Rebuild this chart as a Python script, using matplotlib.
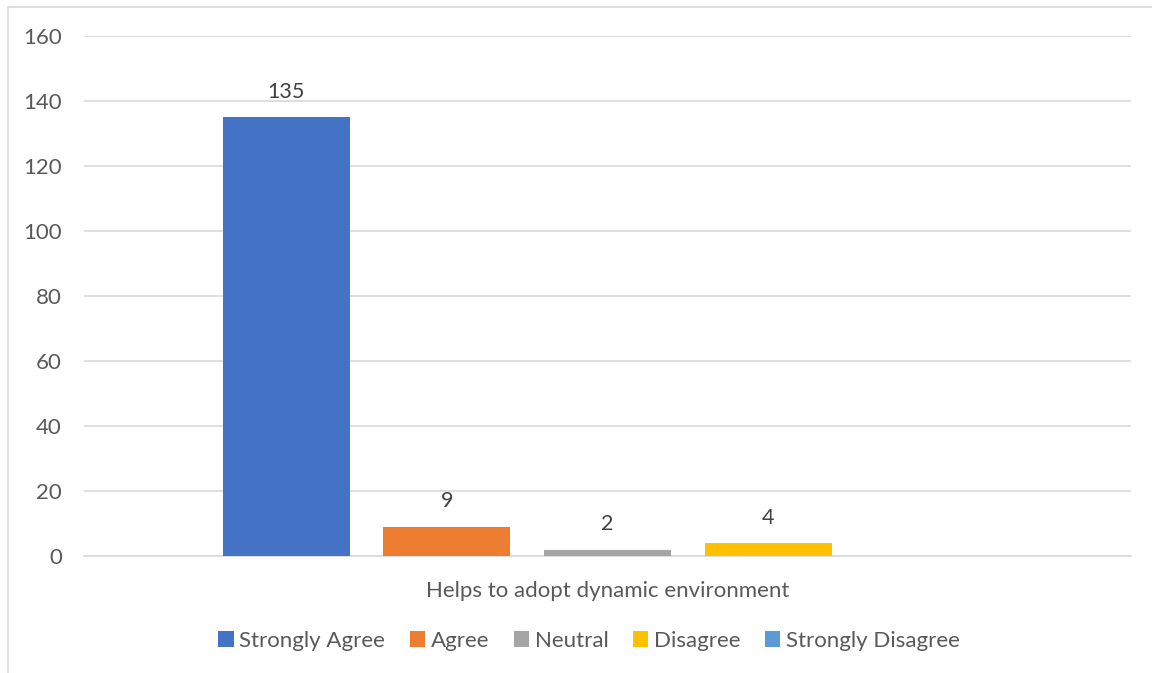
import matplotlib
matplotlib.use("Agg")
import matplotlib.pyplot as plt
from matplotlib.patches import Rectangle, Patch

categories = ["Strongly Agree", "Agree", "Neutral", "Disagree", "Strongly Disagree"]
values = [135, 9, 2, 4, 0]
colors = ["#4472C4", "#ED7D31", "#A5A5A5", "#FFC000", "#5B9BD5"]
group_label = "Helps to adopt dynamic environment"
yticks = [0, 20, 40, 60, 80, 100, 120, 140, 160]

plt.rcParams["font.family"] = ["Lato", "DejaVu Sans"]
text_color = "#595959"
grid_color = "#D9D9D9"

W, H = 1152, 673
fig = plt.figure(figsize=(W / 100, H / 100), dpi=100)
ax = fig.add_axes([84 / W, (H - 556) / H, (1131 - 84) / W, (556 - 36) / H])

# chart frame
fig.patches.append(Rectangle((8 / W, -0.05), 1.2, (H - 7) / H + 0.05,
                             transform=fig.transFigure, fill=False,
                             edgecolor=grid_color, linewidth=1.2))

bar_w = 0.1213
step = 0.1535
n = len(categories)
for i, (cat, v, c) in enumerate(zip(categories, values, colors)):
    x = (i - (n - 1) / 2) * step
    ax.bar(x, v, width=bar_w, color=c, label=cat, zorder=3)
    if v > 0:
        ax.annotate(str(v), (x, v), xytext=(0, 11), textcoords="offset points",
                    ha="center", va="bottom", fontsize=15.5, color="#404040")

ax.set_xlim(-0.5, 0.5)
ax.set_ylim(0, 160)
ax.set_yticks(yticks)
ax.set_xticks([0])
ax.set_xticklabels([group_label])
ax.tick_params(axis="both", length=0, labelsize=16, labelcolor=text_color)
ax.tick_params(axis="y", pad=16)
ax.tick_params(axis="x", pad=18)
for lab in ax.get_yticklabels():
    lab.set_horizontalalignment("right")

ax.grid(axis="y", color=grid_color, linewidth=1.2, zorder=0)
for s in ["top", "right", "left"]:
    ax.spines[s].set_visible(False)
ax.spines["bottom"].set_color(grid_color)
ax.spines["bottom"].set_linewidth(1.2)

handles = [Patch(facecolor=c, label=cat) for cat, c in zip(categories, colors)]
leg = fig.legend(handles=handles, loc="center", bbox_to_anchor=(589 / W, (H - 641) / H),
                 ncol=5, frameon=False, fontsize=16, handlelength=0.7,
                 handleheight=0.7, handletextpad=0.25, columnspacing=1.1)
for t in leg.get_texts():
    t.set_color(text_color)

fig.savefig("out.png", dpi=100, facecolor="white")
